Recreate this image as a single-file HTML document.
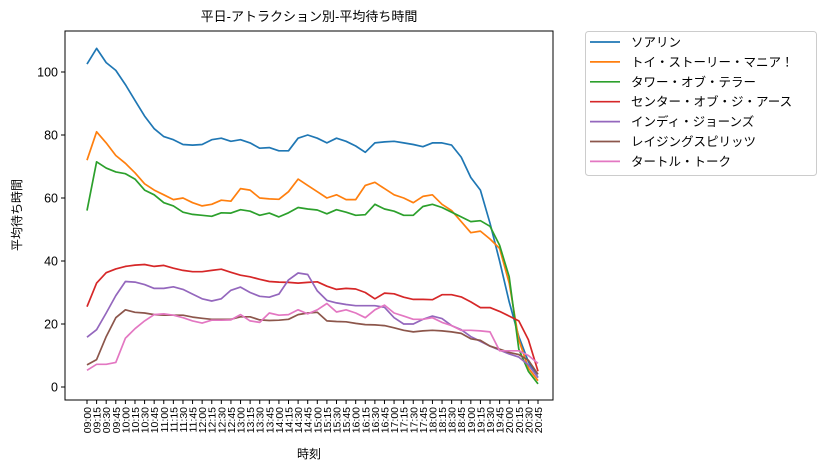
<!DOCTYPE html>
<html><head><meta charset="utf-8"><style>
html,body{margin:0;padding:0;background:#fff;}
svg{display:block;font-family:"Liberation Sans","Noto Sans CJK JP",sans-serif;}
</style></head><body>
<svg id="s" width="825" height="471" viewBox="0 0 825 471" xmlns="http://www.w3.org/2000/svg">
<rect width="825" height="471" fill="#fff"/>
<text x="309" y="21" font-size="13" text-anchor="middle" fill="#000">平日-アトラクション別-平均待ち時間</text>
<text x="309" y="458" font-size="12" text-anchor="middle" fill="#000">時刻</text>
<text transform="translate(21,215) rotate(-90)" font-size="12" text-anchor="middle" fill="#000">平均待ち時間</text>
<g id="plot"></g>
<rect x="65" y="31" width="488" height="369" fill="none" stroke="#000" stroke-width="1"/>
<rect x="585.5" y="31.5" width="231" height="144" rx="3" fill="#fff" stroke="#ccc"/>
<g id="leg" font-size="12.5" fill="#000"></g>
</svg>
<script>
var d=[
[102.5,107.5,103,100.5,96,91,86,82,79.5,78.5,77,76.8,77,78.5,79,78,78.5,77.5,75.8,76,75,75,79,80,79,77.5,79,78,76.5,74.5,77.5,77.8,78,77.5,77,76.3,77.5,77.5,76.8,73,66.5,62.5,52,40,27,16,8,3],
[72,81,77.5,73.5,71,68,64.5,62.5,61,59.5,60,58.5,57.5,58,59.3,59,63,62.5,60,59.7,59.6,62,66,64,62,60,61,59.5,59.5,64,65,63,61,60,58.5,60.5,61,58,56,52.5,49,49.5,47,44,33,15,6,2],
[56,71.5,69.5,68.3,67.7,66,62.5,61,58.5,57.5,55.5,54.8,54.5,54.2,55.3,55.2,56.3,55.8,54.5,55.2,54,55.3,57,56.5,56.2,55,56.3,55.5,54.5,54.7,58,56.5,55.8,54.5,54.5,57.3,58,57,55.5,54,52.5,52.8,51,45,35,12,5,1],
[25.5,33,36.3,37.5,38.3,38.7,38.9,38.3,38.6,37.7,37,36.6,36.6,37,37.4,36.4,35.5,35,34.2,33.5,33.3,33.2,33,33.2,33.4,32,31,31.3,31.1,30,28,29.8,29.6,28.5,27.8,27.8,27.7,29.3,29.3,28.6,27,25.2,25.2,24,22.5,21,15,5],
[15.8,18.2,23.5,29,33.5,33.3,32.5,31.3,31.3,31.8,31,29.5,28,27.3,28,30.7,31.7,30,28.8,28.5,29.5,34,36.2,35.7,30.5,27.5,26.7,26.2,25.8,25.8,25.8,25.3,22,20,20,21.5,22.5,21.7,19.5,18.2,16,14.5,13,11.7,10.5,9.5,7,3],
[7,8.7,16,22,24.5,23.7,23.5,23,22.8,22.8,22.8,22.2,21.8,21.5,21.5,21.5,22.3,22.3,21.3,21.1,21.2,21.5,23,23.5,23.7,21,20.8,20.7,20.2,19.8,19.7,19.5,18.8,18,17.5,17.8,18,17.8,17.5,17,15.3,14.8,13,12,11,10.3,8.5,4],
[5.3,7.2,7.2,7.8,15.5,18.5,21,23,23.2,22.8,22,21,20.3,21.2,21.2,21.3,23,21,20.5,23.5,22.8,23,24.5,23.2,24.5,26.5,23.8,24.5,23.5,22,24.5,26,23.5,22.5,21.5,21.5,22,20.5,19.5,18,18,17.8,17.5,11.5,11.5,11.5,10,7.5]];
var c=["#1f77b4","#ff7f0e","#2ca02c","#d62728","#9467bd","#8c564b","#e377c2"];
var n=["ソアリン","トイ・ストーリー・マニア！","タワー・オブ・テラー","センター・オブ・ジ・アース","インディ・ジョーンズ","レイジングスピリッツ","タートル・トーク"];
var X=function(i){return 87+i*451/47},Y=function(v){return 387-3.15*v};
var h="";
for(var v=0;v<=100;v+=20){var y=Y(v);h+='<line x1="61" x2="65" y1="'+y+'" y2="'+y+'" stroke="#000"/><text x="58" y="'+(y+4.5)+'" font-size="12.5" text-anchor="end">'+v+'</text>';}
for(var i=0;i<48;i++){var x=X(i);var m=540+i*15,hh=Math.floor(m/60),mm=m%60;var t=(hh<10?"0":"")+hh+":"+(mm<10?"0":"")+mm;
h+='<line x1="'+x+'" x2="'+x+'" y1="400" y2="404" stroke="#000"/><text transform="translate('+(x+4)+',407) rotate(-90)" font-size="10.5" text-anchor="end">'+t+'</text>';}
for(var k=0;k<7;k++){var p=d[k].map(function(v,i){return X(i).toFixed(1)+","+Y(v).toFixed(1)}).join(" ");
h+='<polyline points="'+p+'" fill="none" stroke="'+c[k]+'" stroke-width="1.7" stroke-linejoin="round"/>';}
document.getElementById("plot").innerHTML=h;
var g="";for(var k=0;k<7;k++){var y=42+k*19.9;g+='<line x1="590" x2="620" y1="'+y+'" y2="'+y+'" stroke="'+c[k]+'" stroke-width="1.7"/><text x="631" y="'+(y+4.5)+'">'+n[k]+'</text>';}
document.getElementById("leg").innerHTML=g;
</script>
</body></html>
